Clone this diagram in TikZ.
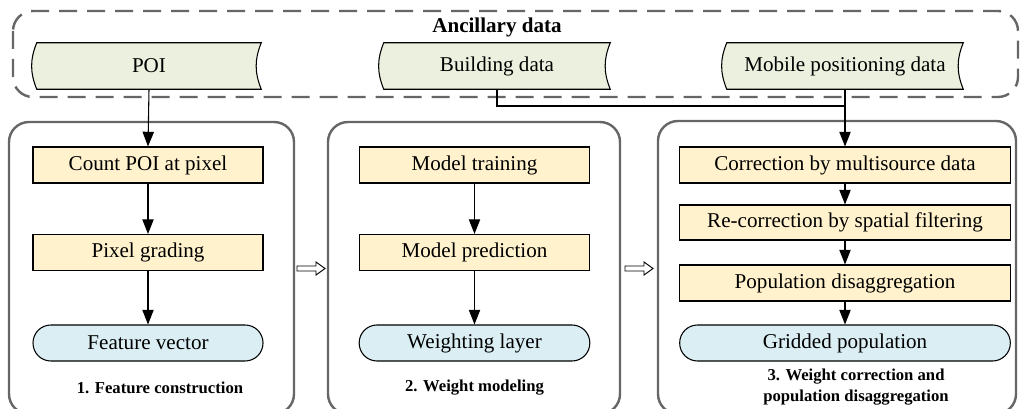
\documentclass[tikz,border=0pt]{standalone}
\usepackage{fontspec}
\setmainfont{Liberation Serif}
\usetikzlibrary{arrows.meta}
\definecolor{procfill}{HTML}{FFF2CC}
\definecolor{termfill}{HTML}{DAEEF3}
\definecolor{datafill}{HTML}{EBF1DE}
\definecolor{framegray}{HTML}{666666}
\pgfdeclarelayer{background}
\pgfsetlayers{background,main}

% stored-data outline around a named node
\newcommand\storedshape[1]{%
  \draw[fill=datafill, line width=0.8pt]
    (#1.north west) to[bend right=22] (#1.south west) -- (#1.south east)
    to[bend left=22] (#1.north east) -- cycle;}

% hollow block arrow starting at a named coordinate
\newcommand\hollowarrow[1]{%
  \draw[line width=0.7pt, fill=white]
    ([shift={(0,2.5)}]#1) -- ++(19,0) -- ++(0,4) -- ++(9,-6.5)
    -- ++(-9,-6.5) -- ++(0,4) -- ++(-19,0) -- cycle;}

\begin{document}
\begin{tikzpicture}[x=0.75pt, y=0.75pt,
  txt/.style={font=\fontsize{15.8}{18}\selectfont},
  procbox/.style={txt, draw, fill=procfill, line width=0.8pt,
    minimum height=27pt, inner sep=0pt},
  termbox/.style={txt, draw, fill=termfill, line width=0.8pt,
    minimum height=27pt, inner sep=0pt, rounded corners=13.4pt},
  datanode/.style={txt, minimum height=34.5pt, inner sep=0pt},
  panel/.style={draw=framegray, line width=1.8pt, rounded corners=15pt},
  panellabel/.style={font=\bfseries\fontsize{12.5}{15.75}\selectfont, align=center},
  flowtip/.tip={Triangle[length=11pt, width=8.5pt]},
  arr/.style={line width=0.8pt, -flowtip},
  plain/.style={line width=0.8pt}
]
\useasboundingbox (0,0) rectangle (1020,-409);

% ancillary data group
\draw[framegray, line width=1.8pt, dash pattern=on 13.5pt off 7.5pt,
  rounded corners=15pt] (13,-11) rectangle (1018,-97);
\node[font=\bfseries\fontsize{15.8}{18}\selectfont] (title) at (497,-27) {Ancillary data};

\node[datanode, minimum width=168pt] (poi) at (149,-66) {POI};
\node[datanode, minimum width=169.5pt] (bld) at (497,-66) {Building data};
\node[datanode, minimum width=177pt] (mob) at (845,-66) {Mobile positioning data};
\begin{pgfonlayer}{background}
  \storedshape{poi}
  \storedshape{bld}
  \storedshape{mob}
\end{pgfonlayer}

% stage panels
\draw[panel] (9,-122) rectangle (294,-414);
\draw[panel] (328,-122) rectangle (620,-414);
\draw[panel] (658,-121) rectangle (1016,-414);

% stage 1
\node[procbox, minimum width=172.5pt] (count) at (148,-165) {Count POI at pixel};
\node[procbox, minimum width=172.5pt] (grade) at (148,-252.5) {Pixel grading};
\node[termbox, minimum width=172.5pt] (feat) at (148,-343) {Feature vector};
\node[panellabel] (lab1) at (160,-388) {1. Feature construction};

% stage 2
\node[procbox, minimum width=173pt] (train) at (474.5,-165) {Model training};
\node[procbox, minimum width=173pt] (pred) at (474.5,-252.5) {Model prediction};
\node[termbox, minimum width=173pt] (wlay) at (474.5,-343) {Weighting layer};
\node[panellabel] (lab2) at (474.5,-388) {2. Weight modeling};

% stage 3
\node[procbox, minimum width=248pt] (corr) at (845,-165) {Correction by multisource data};
\node[procbox, minimum width=248pt, minimum height=26.25pt] (recorr) at (845,-222.5) {Re-correction by spatial filtering};
\node[procbox, minimum width=248pt] (disag) at (845,-283) {Population disaggregation};
\node[termbox, minimum width=248pt] (grid) at (845,-343) {Gridded population};
\node[panellabel] (lab3) at (856,-387.5) {3. Weight correction and\\population disaggregation};

% connectors
\draw[arr] (poi.south) -- (count.north);
\draw[arr] (count) -- (grade);
\draw[arr] (grade) -- (feat);
\draw[arr] (train) -- (pred);
\draw[arr] (pred) -- (wlay);
\coordinate (join) at (mob.south |- 0,-106);
\draw[plain] (bld.south) |- (join);
\draw[arr] (mob.south) -- (corr.north);
\draw[arr] (corr) -- (recorr);
\draw[arr] (recorr) -- (disag);
\draw[arr] (disag) -- (grid);

% transitions between stages
\coordinate (step12) at (297,-268.5);
\coordinate (step23) at (625,-268.5);
\hollowarrow{step12}
\hollowarrow{step23}
\end{tikzpicture}
\end{document}
